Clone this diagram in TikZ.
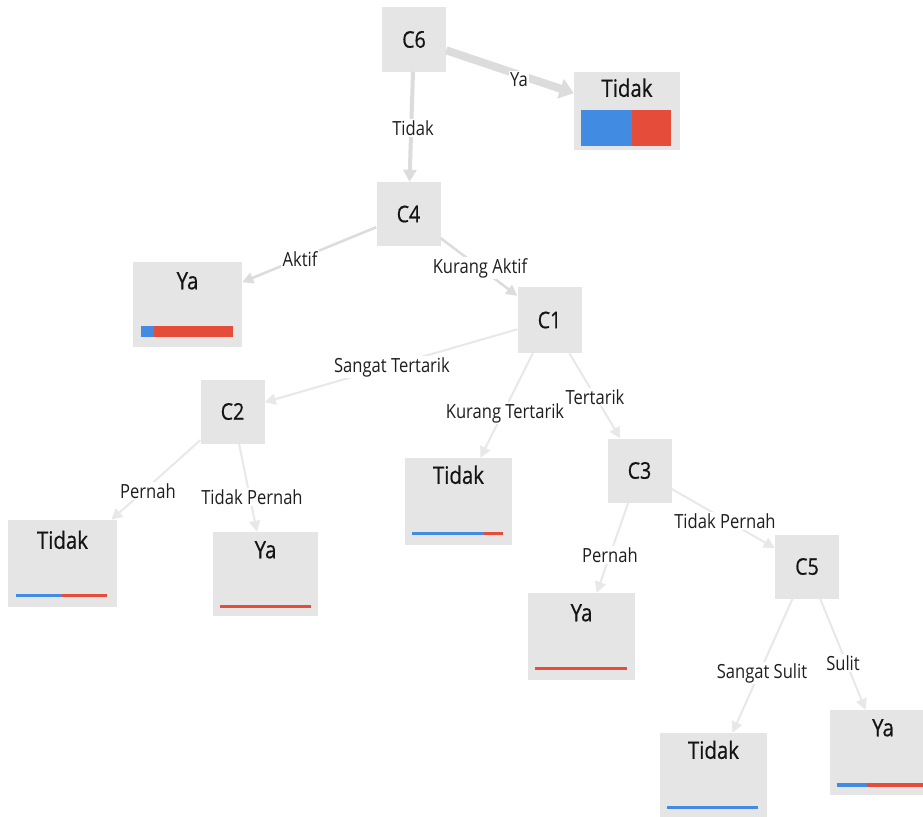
\documentclass[tikz,border=0pt]{standalone}
\usepackage{fontspec}
\usetikzlibrary{arrows.meta}
\newfontfamily\uifont[FakeStretch=0.85]{Open Sans}
\newfontfamily\uifontb[FakeStretch=0.85,FakeBold=0.6]{Open Sans}
\definecolor{boxgray}{RGB}{229,229,229}
\definecolor{edgegray}{RGB}{220,220,220}
\definecolor{edgelight}{RGB}{232,232,232}
\definecolor{txt}{RGB}{20,20,20}
\definecolor{lbltxt}{RGB}{30,30,30}
\definecolor{barblue}{RGB}{66,139,226}
\definecolor{barred}{RGB}{229,76,58}
\tikzset{
  dec/.style={fill=boxgray, minimum width=64pt, minimum height=64pt, inner sep=0pt,
    font=\uifontb\fontsize{23}{26}\selectfont, text=txt},
  leaf/.style={fill=boxgray, minimum width=107pt, minimum height=86pt, inner sep=0pt},
  ttl/.style={font=\uifontb\fontsize{24}{27}\selectfont, text=txt, inner sep=0pt},
  lbl/.style={font=\uifont\fontsize{19.5}{22}\selectfont, text=lbltxt, fill=white, inner sep=1.5pt},
  conn/.style={draw=edgegray, line width=2.5pt, -{Triangle[length=11pt,width=11pt]}},
  connlight/.style={draw=edgelight, line width=2pt, -{Triangle[length=11pt,width=11pt]}},
}
\begin{document}
\begin{tikzpicture}[x=1pt,y=-1pt]
\fill[white] (0,0) rectangle (923,816);
\useasboundingbox (0,0) rectangle (923,816);

% decision nodes
\node[dec] (C6) at (414,39.5) {C6};
\node[dec] (C4) at (408.5,214) {C4};
\node[dec, minimum height=66pt] (C1) at (549.5,320) {C1};
\node[dec] (C2) at (232.5,411.5) {C2};
\node[dec] (C3) at (639.5,470.5) {C3};
\node[dec] (C5) at (807,566.5) {C5};

% leaves
\node[leaf, minimum width=106pt, minimum height=78pt] (T1) at (627,111) {};
\node[leaf, minimum width=109pt, minimum height=85pt] (Y1) at (187.5,304.5) {};
\node[leaf, minimum width=109pt, minimum height=87pt] (T2) at (62.5,563.5) {};
\node[leaf, minimum width=105pt, minimum height=84pt] (Y2) at (265.5,574) {};
\node[leaf, minimum height=87pt] (T3) at (458.5,501.5) {};
\node[leaf, minimum height=87pt] (Y3) at (581.5,636.5) {};
\node[leaf, minimum height=84pt] (T4) at (713.5,775) {};
\node[leaf, minimum height=85pt] (Y4) at (883,752.5) {};

% titles
\node[ttl] (T1t) at ([yshift=-16pt]T1.north) {Tidak};
\node[ttl] (Y1t) at ([yshift=-19pt]Y1.north) {Ya};
\node[ttl] (T2t) at ([yshift=-20pt]T2.north) {Tidak};
\node[ttl] (Y2t) at ([yshift=-18pt]Y2.north) {Ya};
\node[ttl] (T3t) at ([yshift=-17pt]T3.north) {Tidak};
\node[ttl] (Y3t) at ([yshift=-20pt]Y3.north) {Ya};
\node[ttl] (T4t) at ([yshift=-17pt]T4.north) {Tidak};
\node[ttl] (Y4t) at ([yshift=-18pt]Y4.north) {Ya};

% bars
\fill[barblue] (581,110) rectangle (632,146);
\fill[barred] (632,110) rectangle (671,146);
\fill[barblue] (141,326) rectangle (154,337);
\fill[barred] (154,326) rectangle (233,337);
\fill[barblue] (16,593.5) rectangle (62,597);
\fill[barred] (62,593.5) rectangle (107,597);
\fill[barred] (220,604.5) rectangle (311,608);
\fill[barblue] (412,531.5) rectangle (484,535);
\fill[barred] (484,531.5) rectangle (503,535);
\fill[barred] (535,666.5) rectangle (627,670);
\fill[barblue] (667,805.5) rectangle (758,809);
\fill[barblue] (837,783) rectangle (867,786.5);
\fill[barred] (867,783) rectangle (930,786.5);

% connectors
\draw[conn, line width=8pt, -{Triangle[length=14pt,width=20pt]}] (C6) -- (T1);
\draw[conn, line width=4pt, -{Triangle[length=12pt,width=13pt]}] (C6) -- (C4);
\draw[conn] (C4) -- (Y1);
\draw[conn] (C4) -- (C1);
\draw[connlight] (C1) -- (C2);
\draw[connlight] (C1) -- (T3);
\draw[connlight] (C1) -- (C3);
\draw[connlight] (C2) -- (T2);
\draw[connlight] (C2) -- (Y2);
\draw[connlight] (C3) -- (Y3);
\draw[connlight] (C3) -- (C5);
\draw[connlight] (C5) -- (T4);
\draw[connlight] (C5) -- (Y4);

% connector labels
\node[lbl] (l1) at (519,80) {Ya};
\node[lbl] (l2) at (413,128) {Tidak};
\node[lbl] (l3) at (300,259) {Aktif};
\node[lbl] (l4) at (480,268) {Kurang Aktif};
\node[lbl] (l5) at (392,367) {Sangat Tertarik};
\node[lbl] (l6) at (505,413) {Kurang Tertarik};
\node[lbl] (l7) at (595,397) {Tertarik};
\node[lbl] (l8) at (148,491) {Pernah};
\node[lbl] (l9) at (252,497) {Tidak Pernah};
\node[lbl] (l10) at (610,555) {Pernah};
\node[lbl] (l11) at (725,521) {Tidak Pernah};
\node[lbl] (l12) at (762,673) {Sangat Sulit};
\node[lbl] (l13) at (843,663) {Sulit};
\end{tikzpicture}
\end{document}
